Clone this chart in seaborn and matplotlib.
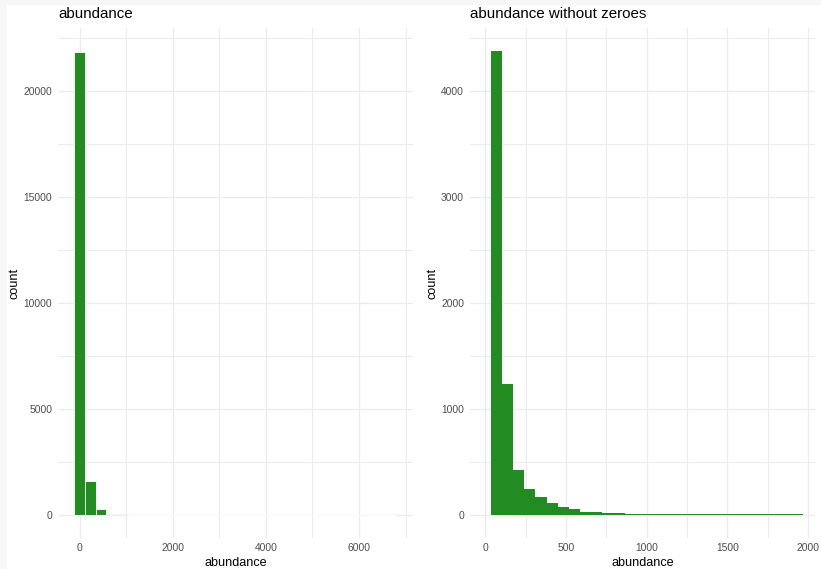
import numpy as np
import pandas as pd
import matplotlib
matplotlib.use("Agg")
import matplotlib.pyplot as plt
from matplotlib.patches import Rectangle
import seaborn as sns

# ---------------- data ----------------
# left panel: 30 bins of width 230, centred on 0, 230, 460, ...
left_bin_width = 230
left_counts = [21850, 1610, 270, 60, 30, 15, 10, 7, 5, 4,
               3, 2, 2, 1, 1, 1, 1, 0, 1, 0,
               0, 1, 0, 0, 1, 0, 0, 0, 0, 1]
# right panel: 28 bins of width 69 starting at 35
right_start = 35
right_bin_width = 69
right_counts = [4377, 1238, 421, 242, 172, 116, 72, 57, 31, 31,
                22, 22, 12, 12, 9, 9, 8, 8, 8, 8,
                8, 8, 8, 8, 8, 8, 8, 8]

left_xticks = [0, 2000, 4000, 6000]
left_xminor = [1000, 3000, 5000, 7000]
left_yticks = [0, 5000, 10000, 15000, 20000]
left_yminor = [2500, 7500, 12500, 17500, 22500]
right_xticks = [0, 500, 1000, 1500, 2000]
right_xminor = [250, 750, 1250, 1750]
right_yticks = [0, 1000, 2000, 3000, 4000]
right_yminor = [500, 1500, 2500, 3500, 4500]

titles = ["abundance", "abundance without zeroes"]
xlabel = "abundance"
ylabel = "count"

# bins built from the values above
n_left = len(left_counts)
left_edges = -left_bin_width / 2 + left_bin_width * np.arange(n_left + 1)
left_centers = (left_edges[:-1] + left_edges[1:]) / 2
n_right = len(right_counts)
right_edges = right_start + right_bin_width * np.arange(n_right + 1)
right_centers = (right_edges[:-1] + right_edges[1:]) / 2

df_left = pd.DataFrame({"abundance": left_centers, "count": left_counts})
df_right = pd.DataFrame({"abundance": right_centers, "count": right_counts})

# ---------------- style ----------------
sns.set_theme(style="white")
plt.rcParams["font.family"] = ["Liberation Sans", "DejaVu Sans"]

W, H = 821, 569
fig = plt.figure(figsize=(W / 100, H / 100), dpi=100, facecolor="#f7f7f7")
fig.patches.append(Rectangle((7 / W, 0), 1, (H - 5) / H, transform=fig.transFigure,
                             facecolor="white", edgecolor="none", zorder=-10))

def px_axes(x0, x1, ytop, ybot):
    return fig.add_axes([x0 / W, (H - ybot) / H, (x1 - x0) / W, (ybot - ytop) / H])

axL = px_axes(58.3, 413, 28, 538)
axR = px_axes(470, 815, 28, 538)

GREEN = "#228B22"
GRID = "#ebebeb"

sns.histplot(data=df_left, x="abundance", weights="count",
             binwidth=left_bin_width, binrange=(left_edges[0], left_edges[-1]),
             color=GREEN, edgecolor="white", linewidth=0.6, alpha=1, ax=axL)
sns.histplot(data=df_right, x="abundance", weights="count",
             binwidth=right_bin_width, binrange=(right_edges[0], right_edges[-1]),
             color=GREEN, edgecolor="none", linewidth=0, alpha=1, ax=axR)

def style(ax, title, xt, xm, yt, ym, xlim, ylim):
    ax.set_facecolor("white")
    ax.set_xlim(*xlim)
    ax.set_ylim(*ylim)
    ax.set_xticks(xt)
    ax.set_xticklabels([str(v) for v in xt])
    ax.set_xticks(xm, minor=True)
    ax.set_yticks(yt)
    ax.set_yticklabels([str(v) for v in yt])
    ax.set_yticks(ym, minor=True)
    ax.grid(True, which="major", color=GRID, linewidth=0.9)
    ax.grid(True, which="minor", color=GRID, linewidth=0.75)
    ax.set_axisbelow(True)
    for s in ax.spines.values():
        s.set_visible(False)
    ax.tick_params(which="both", length=0)
    ax.tick_params(axis="y", pad=4.3, labelsize=7.4, labelcolor="#4d4d4d")
    ax.tick_params(axis="x", pad=3.8, labelsize=7.4, labelcolor="#4d4d4d")
    ax.set_xlabel(xlabel, fontsize=9.1, color="black", labelpad=2.5)
    ax.set_ylabel(ylabel, fontsize=9.1, color="black", labelpad=2)
    ax.set_title(title, loc="left", fontsize=10.9, color="black", pad=7)

style(axL, titles[0], left_xticks, left_xminor, left_yticks, left_yminor,
      (-460, 7161), (-1085, 22972))
style(axR, titles[1], right_xticks, right_xminor, right_yticks, right_yminor,
      (-95, 2044), (-217, 4591))

fig.savefig("out.png", dpi=100, facecolor=fig.get_facecolor())
